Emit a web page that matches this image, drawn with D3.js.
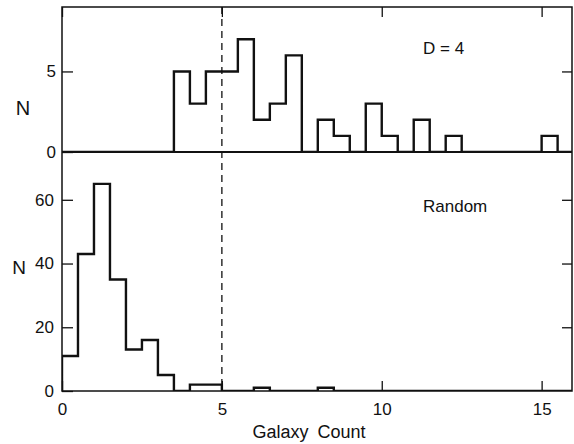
<!DOCTYPE html>
<html>
<head>
<meta charset="utf-8">
<script src="https://cdn.jsdelivr.net/npm/d3@7"></script>
<style>
  html, body { margin: 0; padding: 0; background: #fff; }
  svg { display: block; }
  text { font-family: "Liberation Sans", Arial, sans-serif; fill: #111; }
</style>
</head>
<body>
<svg id="chart" width="574" height="444"></svg>
<script>
// ---- data ----
const binWidth = 0.5;
const binStarts = [0, 0.5, 1, 1.5, 2, 2.5, 3, 3.5, 4, 4.5, 5, 5.5, 6, 6.5, 7, 7.5,
                   8, 8.5, 9, 9.5, 10, 10.5, 11, 11.5, 12, 12.5, 13, 13.5, 14, 14.5, 15, 15.5];
const countsD4 = [0, 0, 0, 0, 0, 0, 0, 5, 3, 5, 5, 7, 2, 3, 6, 0,
                  2, 1, 0, 3, 1, 0, 2, 0, 1, 0, 0, 0, 0, 0, 1, 0];
const countsRandom = [11, 43, 65, 35, 13, 16, 5, 0, 2, 2, 0, 0, 1, 0, 0, 0,
                      1, 0, 0, 0, 0, 0, 0, 0, 0, 0, 0, 0, 0, 0, 0, 0];
const xTicks = [0, 5, 10, 15];
const yTicksTop = [0, 5];
const yTicksBottom = [0, 20, 40, 60];
const cutValue = 5;
const labelTop = "D = 4";
const labelBottom = "Random";
const xTitle = "Galaxy Count";
const yTitle = "N";

// ---- layout ----
const svg = d3.select("#chart");
const left = 62, right = 572;
const topY0 = 7, topY1 = 152, botY1 = 391;

const x = d3.scaleLinear().domain([0, 15.95]).range([left, right]);
const yTop = d3.scaleLinear().domain([0, 9]).range([topY1, topY0]);
const yBot = d3.scaleLinear().domain([0, 75]).range([botY1, topY1]);

const defs = svg.append("defs");
defs.append("clipPath").attr("id", "clipTop").append("rect")
  .attr("x", left).attr("y", topY0).attr("width", right - left).attr("height", topY1 - topY0);
defs.append("clipPath").attr("id", "clipBot").append("rect")
  .attr("x", left).attr("y", topY1).attr("width", right - left).attr("height", botY1 - topY1);

function histPath(counts, y) {
  const pts = [[binStarts[0], 0]];
  binStarts.forEach((s, i) => pts.push([s, counts[i]]));
  pts.push([binStarts[binStarts.length - 1] + binWidth, 0]);
  return d3.line().x(d => x(d[0])).y(d => y(d[1])).curve(d3.curveStepAfter)(pts);
}

// histograms
svg.append("path").attr("d", histPath(countsD4, yTop))
  .attr("clip-path", "url(#clipTop)")
  .attr("fill", "none").attr("stroke", "#111").attr("stroke-width", 2.4)
  .attr("stroke-linejoin", "miter");
svg.append("path").attr("d", histPath(countsRandom, yBot))
  .attr("clip-path", "url(#clipBot)")
  .attr("fill", "none").attr("stroke", "#111").attr("stroke-width", 2.4)
  .attr("stroke-linejoin", "miter");

// dashed cut line
svg.append("line")
  .attr("x1", x(cutValue)).attr("x2", x(cutValue))
  .attr("y1", topY0).attr("y2", botY1)
  .attr("stroke", "#111").attr("stroke-width", 1.3)
  .attr("stroke-dasharray", "7,5");

// axes
function styleAxis(g, showLabels, fontSize) {
  g.select(".domain").remove();
  g.selectAll(".tick line").attr("stroke", "#111").attr("stroke-width", 1.3);
  g.selectAll(".tick text")
    .style("font-family", '"Liberation Sans", Arial, sans-serif')
    .attr("font-size", fontSize).attr("fill", "#111");
  if (!showLabels) g.selectAll(".tick text").remove();
}

// top panel
svg.append("g").attr("transform", `translate(${left},0)`)
  .call(d3.axisLeft(yTop).tickValues(yTicksTop).tickSize(-11).tickPadding(6).tickFormat(d3.format("d")))
  .call(g => styleAxis(g, true, 17));
svg.append("g").attr("transform", `translate(${right},0)`)
  .call(d3.axisRight(yTop).tickValues([5]).tickSize(-10))
  .call(g => styleAxis(g, false, 17));
svg.append("g").attr("transform", `translate(0,${topY0})`)
  .call(d3.axisTop(x).tickValues(xTicks).tickSize(-10))
  .call(g => styleAxis(g, false, 17));

// bottom panel
svg.append("g").attr("transform", `translate(${left},0)`)
  .call(d3.axisLeft(yBot).tickValues(yTicksBottom).tickSize(-11).tickPadding(8).tickFormat(d3.format("d")))
  .call(g => styleAxis(g, true, 17));
svg.append("g").attr("transform", `translate(${right},0)`)
  .call(d3.axisRight(yBot).tickValues(yTicksBottom.slice(1)).tickSize(-10))
  .call(g => styleAxis(g, false, 17));
svg.append("g").attr("transform", `translate(0,${botY1})`)
  .call(d3.axisBottom(x).tickValues(xTicks).tickSize(-10).tickPadding(12).tickFormat(d3.format("d")))
  .call(g => styleAxis(g, true, 17));

// frames
svg.append("rect").attr("x", left).attr("y", topY0)
  .attr("width", right - left).attr("height", botY1 - topY0)
  .attr("fill", "none").attr("stroke", "#111").attr("stroke-width", 1.5);
svg.append("line").attr("x1", left).attr("x2", right)
  .attr("y1", topY1).attr("y2", topY1)
  .attr("stroke", "#111").attr("stroke-width", 1.8);

// labels
svg.append("text").attr("x", 23).attr("y", 115).attr("text-anchor", "middle")
  .attr("font-size", 20).text(yTitle);
svg.append("text").attr("x", 19).attr("y", 274).attr("text-anchor", "middle")
  .attr("font-size", 19).text(yTitle);
svg.append("text").attr("x", 423).attr("y", 54)
  .attr("font-size", 17).text(labelTop);
svg.append("text").attr("x", 423).attr("y", 212)
  .attr("font-size", 17).text(labelBottom);
svg.append("text").attr("x", 309).attr("y", 438).attr("text-anchor", "middle")
  .attr("font-size", 18).style("word-spacing", "4px").text(xTitle);
</script>
</body>
</html>
